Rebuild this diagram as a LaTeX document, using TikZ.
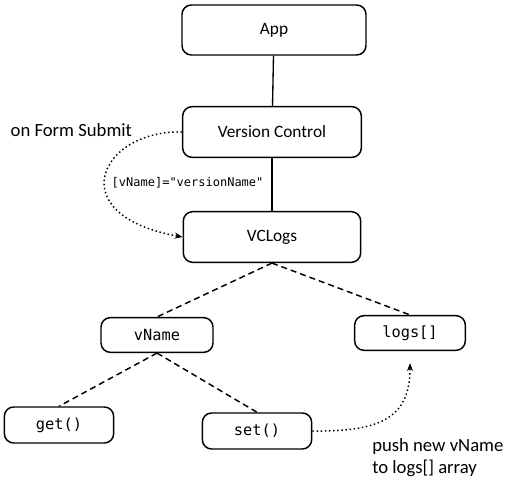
\documentclass[tikz,border=0pt]{standalone}
\usepackage{fontspec}
\setmainfont{Carlito}
\setmonofont{DejaVu Sans Mono}
\usepackage{tikz}
\usetikzlibrary{arrows.meta}

\begin{document}
\begin{tikzpicture}[x=0.75pt, y=-0.75pt, every node/.style={font=\fontsize{13}{15}\selectfont},
    box/.style={draw, rounded corners=7pt, line width=1.1pt, fill=white},
    code/.style={font=\ttfamily\fontsize{11.5}{14}\selectfont},
    note/.style={font=\fontsize{14}{17}\selectfont},
    link/.style={line width=1pt},
    dlink/.style={dash pattern=on 4.5pt off 3pt, line width=1.1pt},
    flow/.style={dotted, line width=1.1pt, -{Stealth[length=6pt]}}]
    \useasboundingbox (0,0) rectangle (513,484);

    % Top level components
    \node[box, minimum width=138pt, minimum height=37.5pt] (app) at (274,30) {App};
    \node[box, minimum width=134pt, minimum height=38pt] (vc) at (272,132) {Version Control};
    \node[box, minimum width=133pt, minimum height=38pt] (vclogs) at (272,237) {VCLogs};

    % State of VCLogs
    \node[box, code, minimum width=84pt, minimum height=26pt] (vname) at (157,335) {vName};
    \node[box, code, minimum width=83pt, minimum height=26pt] (logs) at (410,333) {logs[]};

    % Accessors
    \node[box, code, minimum width=82pt, minimum height=27pt] (get) at (59,425) {get()};
    \node[box, code, minimum width=82pt, minimum height=27pt] (set) at (257,431) {set()};

    % Tree lines
    \draw[link] (app) -- (vc);
    \draw[link] (vc) -- (vclogs);
    \draw[dlink] (vclogs.south) -- (vname.north);
    \draw[dlink] (vclogs.south) -- (logs.north);
    \draw[dlink] (vname.south) -- (get.north);
    \draw[dlink] (vname.south) -- (set.north);

    % Data flow
    \draw[flow] (vc.west) .. controls (100,130) and (60,215) .. (vclogs.west);
    \draw[flow, shorten >=9pt] (set.east) .. controls (385,432) and (410,415) .. (logs.south);

    % Labels
    \node[note, anchor=west] (submit) at (6,130) {on Form Submit};
    \node[anchor=west, font=\ttfamily\small] (prop) at (107,183) {[vName]="versionName"};
    \node[note, anchor=north west, align=left, inner sep=0pt] (push) at (372,438) {push new vName\\to logs[] array};
\end{tikzpicture}
\end{document}
